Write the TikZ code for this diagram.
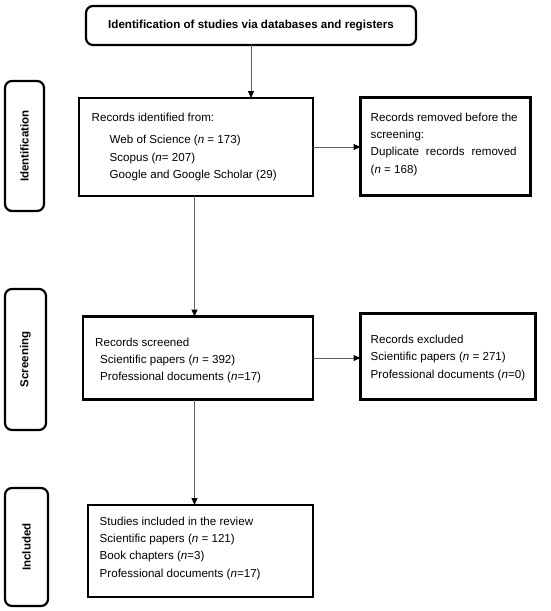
\documentclass[tikz,border=0pt]{standalone}
\usepackage{fontspec}
\setmainfont{Liberation Sans}
\usetikzlibrary{arrows.meta}
\begin{document}
\begin{tikzpicture}[x=1pt,y=-1pt,
  box/.style={draw=black,line width=2.2pt,anchor=north west,inner sep=0pt,outer sep=0pt},
  rbox/.style={box,rounded corners=7pt},
  txt/.style={anchor=north west,inner sep=0pt,align=left,font=\fontsize{11.6}{17.3}\selectfont},
  sidelab/.style={font=\bfseries\fontsize{11.5}{14}\selectfont,rotate=90,inner sep=0pt},
  arr/.style={draw=black!62,line width=1pt,-{Triangle[length=7pt,width=6pt,color=black]}}]
\useasboundingbox (0,0) rectangle (550,611);
% top title box
\node[rbox,minimum width=330pt,minimum height=39pt,font=\bfseries\fontsize{11.6}{14}\selectfont] (title) at (86,6) {Identification of studies via databases and registers};
% side boxes
\node[rbox,minimum width=39pt,minimum height=130pt] (idside) at (5,81) {};
\node[sidelab] (idlab) at (idside.center) {Identification};
\node[rbox,minimum width=41pt,minimum height=141pt] (scside) at (5,289) {};
\node[sidelab] (sclab) at (scside.center) {Screening};
\node[rbox,minimum width=43pt,minimum height=118pt] (inside) at (5,488) {};
\node[sidelab] (inlab) at (inside.center) {Included};
% main boxes
\node[box,minimum width=234pt,minimum height=98pt] (b1) at (79,98) {};
\node[txt] (t1) at (91.5,113) {Records identified from:\\[5pt]
\hspace*{18pt}Web of Science (\textit{n} = 173)\\
\hspace*{18pt}Scopus (\textit{n}= 207)\\
\hspace*{18pt}Google and Google Scholar (29)};
\node[box,minimum width=170pt,minimum height=98pt] (b2) at (360.5,97.5) {};
\node[txt] (t2) at (370.5,112.5) {Records removed before the\\
screening:\\
\hbox to 146pt{Duplicate\hfill records\hfill removed}\\
(\textit{n} = 168)};
\node[box,minimum width=230pt,minimum height=83pt] (b3) at (83,316.5) {};
\node[txt] (t3) at (95,337.5) {Records screened\\
\hspace*{5pt}Scientific papers (\textit{n} = 392)\\
\hspace*{5pt}Professional documents (\textit{n}=17)};
\node[box,minimum width=175pt,minimum height=86pt] (b4) at (360.5,313.5) {};
\node[txt] (t4) at (370.5,335) {Records excluded\\
Scientific papers (\textit{n} = 271)\\
Professional documents (\textit{n}=0)};
\node[box,minimum width=225pt,minimum height=92pt] (b5) at (88,505) {};
\node[txt] (t5) at (99.5,516.5) {Studies included in the review\\
Scientific papers (\textit{n} = 121)\\
Book chapters (\textit{n}=3)\\
Professional documents (\textit{n}=17)};
% connectors
\draw[arr] (title.south) -- (title.south |- b1.north);
\draw[arr] (b1.east) -- (b1.east -| b2.west);
\draw[arr] ([xshift=-1.5pt]b1.south) -- ([xshift=-1.5pt]b1.south |- b3.north);
\draw[arr] (b3.east) -- (b3.east -| b4.west);
\draw[arr] ([xshift=-1.5pt]b1.south |- b3.south) -- ([xshift=-1.5pt]b1.south |- b5.north);
\end{tikzpicture}
\end{document}
